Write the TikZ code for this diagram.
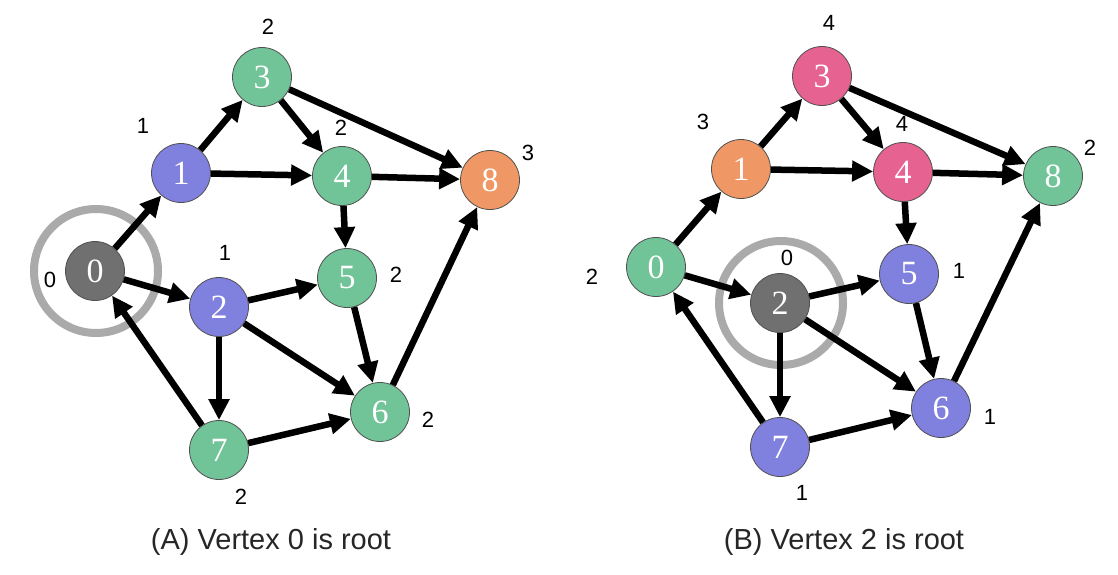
\documentclass[tikz,border=0pt]{standalone}
\usepackage{fontspec}
\setmainfont{Liberation Sans}
\newfontfamily\numfont{Liberation Serif}
\usetikzlibrary{arrows.meta}
\definecolor{vgreen}{RGB}{112,196,152}
\definecolor{vblue}{RGB}{128,128,222}
\definecolor{vorange}{RGB}{239,152,101}
\definecolor{vpink}{RGB}{230,98,145}
\definecolor{vgray}{RGB}{112,112,112}
\definecolor{vring}{RGB}{170,170,170}
\definecolor{vborder}{RGB}{80,80,80}
\tikzset{
  vert/.style={circle, minimum size=59pt, inner sep=0pt, draw=vborder, line width=0.8pt,
    text=white, font=\numfont\fontsize{34}{34}\selectfont},
  lab/.style={font=\fontsize{22}{22}\selectfont, text=black, inner sep=0pt},
  captxt/.style={font=\fontsize{29}{29}\selectfont, text=black!85, inner sep=0pt},
  edge/.style={line width=6.5pt, -{Triangle[length=21pt,width=20pt]}, black},
  ring/.style={draw=vring, line width=8pt}
}
\begin{document}
\begin{tikzpicture}[x=1pt,y=-1pt]
\useasboundingbox[fill=white] (0,0) rectangle (1118,574);
% ---------- (A) ----------
\draw[ring] (96,271) circle (62);
\node[vert, fill=vgray]   (a0) at (95,271) {0};
\node[vert, fill=vblue]   (a1) at (181,173) {1};
\node[vert, fill=vblue]   (a2) at (219,307) {2};
\node[vert, fill=vgreen]  (a3) at (262,77) {3};
\node[vert, fill=vgreen]  (a4) at (342,176) {4};
\node[vert, fill=vgreen]  (a5) at (347,278) {5};
\node[vert, fill=vgreen]  (a6) at (380,412) {6};
\node[vert, fill=vgreen]  (a7) at (219,450) {7};
\node[vert, fill=vorange] (a8) at (490,180) {8};
\foreach \s/\t in {a0/a1,a0/a2,a7/a0,a1/a3,a1/a4,a3/a4,a3/a8,a4/a8,a4/a5,a2/a5,a2/a6,a2/a7,a5/a6,a7/a6,a6/a8}
  \draw[edge] (\s) -- (\t);
\node[lab] (la0) at (50,280) {0};
\node[lab] (la1) at (143,126) {1};
\node[lab] (la2) at (225,253) {1};
\node[lab] (la3) at (268,27) {2};
\node[lab] (la4) at (341,128) {2};
\node[lab] (la5) at (396,275) {2};
\node[lab] (la6) at (428,420) {2};
\node[lab] (la7) at (241,497) {2};
\node[lab] (la8) at (528,153) {3};
\node[captxt] (capa) at (271,542) {(A) Vertex 0 is root};
% ---------- (B) ----------
\draw[ring] (781,303) circle (62);
\node[vert, fill=vgreen]  (b0) at (656,267) {0};
\node[vert, fill=vorange] (b1) at (741,169) {1};
\node[vert, fill=vgray]   (b2) at (780,303) {2};
\node[vert, fill=vpink]   (b3) at (822,76) {3};
\node[vert, fill=vpink]   (b4) at (903,172) {4};
\node[vert, fill=vblue]   (b5) at (909,274) {5};
\node[vert, fill=vblue]   (b6) at (941,408) {6};
\node[vert, fill=vblue]   (b7) at (780,447) {7};
\node[vert, fill=vgreen]  (b8) at (1053,176) {8};
\foreach \s/\t in {b0/b1,b0/b2,b7/b0,b1/b3,b1/b4,b3/b4,b3/b8,b4/b8,b4/b5,b2/b5,b2/b6,b2/b7,b5/b6,b7/b6,b6/b8}
  \draw[edge] (\s) -- (\t);
\node[lab] (lb0) at (592,277) {2};
\node[lab] (lb1) at (703,122) {3};
\node[lab] (lb2) at (787,258) {0};
\node[lab] (lb3) at (829,23) {4};
\node[lab] (lb4) at (902,124) {4};
\node[lab] (lb5) at (959,271) {1};
\node[lab] (lb6) at (990,417) {1};
\node[lab] (lb7) at (802,493) {1};
\node[lab] (lb8) at (1090,148) {2};
\node[captxt] (capb) at (844,542) {(B) Vertex 2 is root};
\end{tikzpicture}
\end{document}
